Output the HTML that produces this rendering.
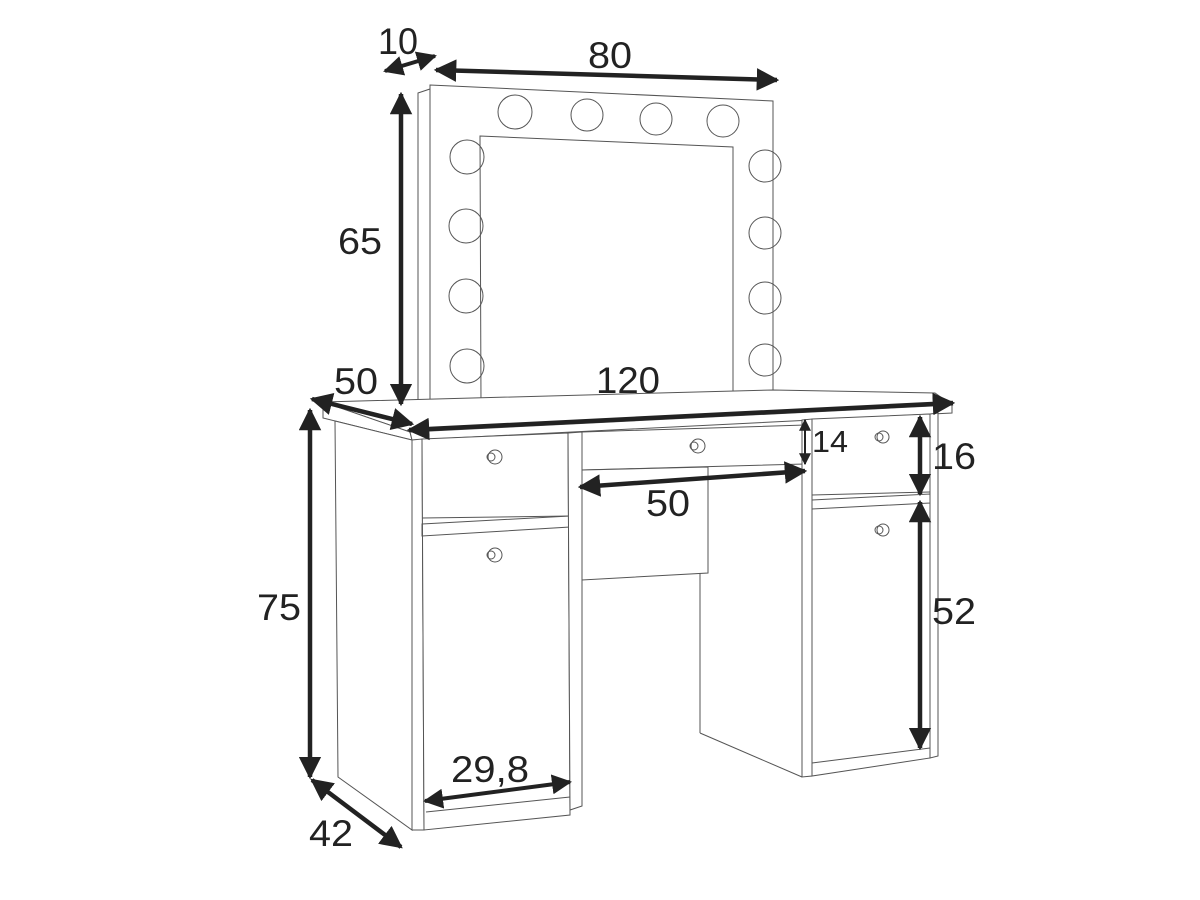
<!DOCTYPE html>
<html><head><style>
html,body{margin:0;padding:0;background:#fff;}
svg{display:block;}
text{font-family:"Liberation Sans","DejaVu Sans",sans-serif;fill:#222;}
</style></head><body>
<svg width="1200" height="900" viewBox="0 0 1200 900" xmlns="http://www.w3.org/2000/svg">
<defs>
<marker id="a" viewBox="0 0 10 10" refX="9" refY="5" markerWidth="5" markerHeight="5" orient="auto-start-reverse" markerUnits="strokeWidth">
<path d="M0,0 L10,5 L0,10 Z" fill="#222"/></marker>
<marker id="b" viewBox="0 0 10 10" refX="9" refY="5" markerWidth="6" markerHeight="6" orient="auto-start-reverse" markerUnits="strokeWidth">
<path d="M0,0 L10,5 L0,10 Z" fill="#222"/></marker>
</defs>
<g fill="none" stroke="#555" stroke-width="1">
<polygon points="418,93 430,89 430,407 418,405" fill="#fff"/>
<polygon points="430,85 773,101 773,396 430,407" fill="#fff"/>
<polygon points="480,136 733,147 733,398 481,405"/>
<circle cx="515" cy="112" r="17"/><circle cx="587" cy="115" r="16"/><circle cx="656" cy="119" r="16"/><circle cx="723" cy="121" r="16"/>
<circle cx="467" cy="157" r="17"/><circle cx="466" cy="226" r="17"/><circle cx="466" cy="296" r="17"/><circle cx="467" cy="366" r="17"/>
<circle cx="765" cy="166" r="16"/><circle cx="765" cy="233" r="16"/><circle cx="765" cy="298" r="16"/><circle cx="765" cy="360" r="16"/>
<polygon points="323,402 773,390 935,393 952,405 410,432" fill="#fff"/>
<polygon points="323,402 410,432 412,440 323,418" fill="#fff"/>
<polygon points="410,432 952,405 952,413 412,440" fill="#fff"/>
<polygon points="335,421 412,440 412,830 338,777" fill="#fff"/>
<polygon points="412,440 422,439 424,830 412,830" fill="#fff"/>
<polygon points="422,439 568,433 570,815 424,830" fill="#fff"/>
<line x1="422" y1="518" x2="570" y2="516"/>
<polygon points="422,524 570,516 570,527 422,536"/>
<line x1="426" y1="812" x2="570" y2="797"/>
<polygon points="568,433 582,432 582,806 570,810" fill="#fff"/>
<polygon points="582,432 805,425 805,464 582,470" fill="#fff"/>
<polygon points="582,470 708,467 708,573 582,580" fill="#fff"/>
<line x1="700" y1="573" x2="700" y2="733"/>
<line x1="700" y1="733" x2="802" y2="777"/>
<polygon points="802,420 812,419 812,776 802,777" fill="#fff"/>
<polygon points="812,419 930,414 930,758 812,776" fill="#fff"/>
<line x1="812" y1="495" x2="930" y2="492"/>
<polygon points="812,500 930,494 930,503 812,509"/>
<line x1="812" y1="763" x2="930" y2="748"/>
<polygon points="930,414 938,413 938,756 930,758" fill="#fff"/>
<circle cx="495" cy="457" r="7"/><circle cx="491" cy="457" r="4"/>
<circle cx="698" cy="446" r="7"/><circle cx="694" cy="446" r="4"/>
<circle cx="883" cy="437" r="6"/><circle cx="879" cy="437" r="4"/>
<circle cx="495" cy="555" r="7"/><circle cx="491" cy="555" r="4"/>
<circle cx="883" cy="530" r="6"/><circle cx="879" cy="530" r="4"/>
</g>
<g stroke="#222" fill="none">
<line x1="385" y1="71" x2="435" y2="56" stroke-width="4" marker-start="url(#a)" marker-end="url(#a)"/>
<line x1="436" y1="70" x2="777" y2="80" stroke-width="4.5" marker-start="url(#a)" marker-end="url(#a)"/>
<line x1="401" y1="94" x2="401" y2="404" stroke-width="4.5" marker-start="url(#a)" marker-end="url(#a)"/>
<line x1="312" y1="399" x2="412" y2="424" stroke-width="4.5" marker-start="url(#a)" marker-end="url(#a)"/>
<line x1="409" y1="430" x2="953" y2="403" stroke-width="4.5" marker-start="url(#a)" marker-end="url(#a)"/>
<line x1="310" y1="410" x2="310" y2="777" stroke-width="4.5" marker-start="url(#a)" marker-end="url(#a)"/>
<line x1="312" y1="780" x2="401" y2="847" stroke-width="4.5" marker-start="url(#a)" marker-end="url(#a)"/>
<line x1="425" y1="801" x2="570" y2="782" stroke-width="4" marker-start="url(#a)" marker-end="url(#a)"/>
<line x1="580" y1="487" x2="805" y2="471" stroke-width="4.5" marker-start="url(#a)" marker-end="url(#a)"/>
<line x1="805" y1="420" x2="805" y2="464" stroke-width="2" marker-start="url(#b)" marker-end="url(#b)"/>
<line x1="920" y1="417" x2="920" y2="494" stroke-width="4.5" marker-start="url(#a)" marker-end="url(#a)"/>
<line x1="920" y1="502" x2="920" y2="748" stroke-width="4.5" marker-start="url(#a)" marker-end="url(#a)"/>
</g>
<g font-size="37">
<text x="378" y="54" textLength="40" lengthAdjust="spacingAndGlyphs">10</text>
<text x="588" y="68" textLength="44" lengthAdjust="spacingAndGlyphs">80</text>
<text x="338" y="254" textLength="44" lengthAdjust="spacingAndGlyphs">65</text>
<text x="334" y="394" textLength="44" lengthAdjust="spacingAndGlyphs">50</text>
<text x="596" y="393" textLength="64" lengthAdjust="spacingAndGlyphs">120</text>
<text x="257" y="620" textLength="44" lengthAdjust="spacingAndGlyphs">75</text>
<text x="309" y="846" textLength="44" lengthAdjust="spacingAndGlyphs">42</text>
<text x="451" y="782" textLength="78" lengthAdjust="spacingAndGlyphs">29,8</text>
<text x="646" y="516" textLength="44" lengthAdjust="spacingAndGlyphs">50</text>
<text x="932" y="469" textLength="44" lengthAdjust="spacingAndGlyphs">16</text>
<text x="932" y="624" textLength="44" lengthAdjust="spacingAndGlyphs">52</text>
<text x="812" y="452" font-size="31" textLength="36" lengthAdjust="spacingAndGlyphs">14</text>
</g>
</svg>
</body></html>
